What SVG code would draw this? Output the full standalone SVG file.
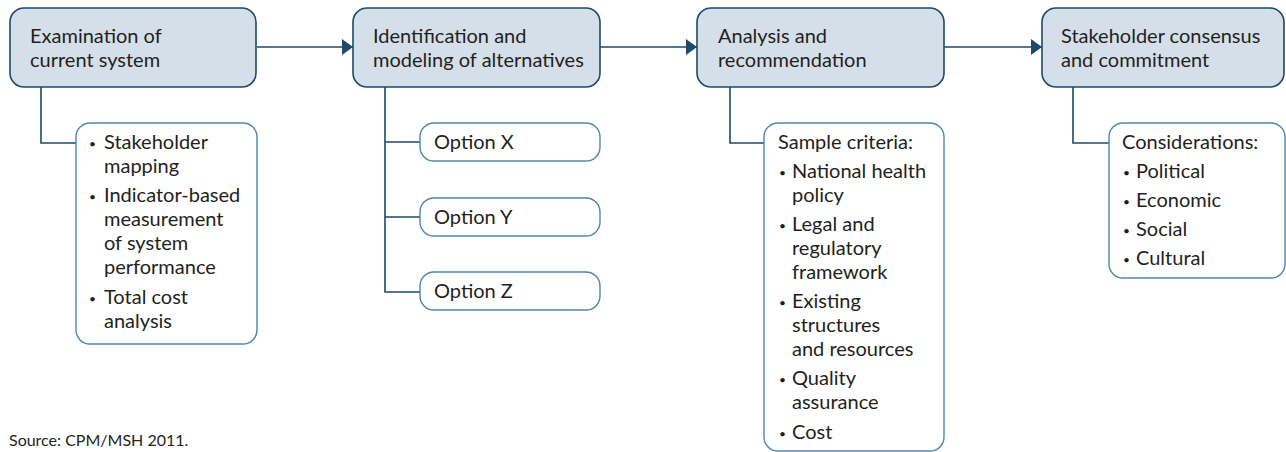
<svg xmlns="http://www.w3.org/2000/svg" width="1286" height="452" viewBox="0 0 1286 452">
<defs>
<style>
.main{fill:#d5dfea;stroke:#1d4a6a;stroke-width:1.6}
.sub{fill:#ffffff;stroke:#4f86ad;stroke-width:1.4}
.con{fill:none;stroke:#1d4a6a;stroke-width:1.6}
.t{font-family:Lato,"Open Sans",sans-serif;font-size:20px;fill:#231f20}
.b{font-family:Lato,"Open Sans",sans-serif;font-size:12px;fill:#231f20}
.s{font-family:Lato,"Open Sans",sans-serif;font-size:16px;fill:#231f20}
</style>
<marker id="ah" markerWidth="11" markerHeight="16" refX="11" refY="8" orient="auto" markerUnits="userSpaceOnUse">
<path d="M0,0 L11,8 L0,16 Z" fill="#1d4a6a"/>
</marker>
</defs>
<rect width="1286" height="452" fill="#ffffff"/>
<g id="connectors">
<line class="con" x1="257" y1="47" x2="353" y2="47" marker-end="url(#ah)"/>
<line class="con" x1="600" y1="47" x2="697" y2="47" marker-end="url(#ah)"/>
<line class="con" x1="944" y1="47" x2="1042" y2="47" marker-end="url(#ah)"/>
<path class="con" d="M41,87 V143 H76"/>
<path class="con" d="M385,87 V292 H420 M385,142 H420 M385,217 H420"/>
<path class="con" d="M730,87 V143 H764"/>
<path class="con" d="M1073,87 V143 H1109"/>
</g>
<g id="n1">
<rect class="main" x="10" y="8" width="246" height="79" rx="14"/>
<text class="t" x="30" y="43">Examination of</text>
<text class="t" x="30" y="67">current system</text>
</g>
<g id="n2">
<rect class="main" x="353" y="8" width="247" height="79" rx="14"/>
<text class="t" x="373" y="43">Identification and</text>
<text class="t" x="373" y="67">modeling of alternatives</text>
</g>
<g id="n3">
<rect class="main" x="697" y="8" width="247" height="79" rx="14"/>
<text class="t" x="718" y="43">Analysis and</text>
<text class="t" x="718" y="67">recommendation</text>
</g>
<g id="n4">
<rect class="main" x="1042" y="8" width="242" height="79" rx="14"/>
<text class="t" x="1061" y="43">Stakeholder consensus</text>
<text class="t" x="1061" y="67">and commitment</text>
</g>
<g id="s1">
<rect class="sub" x="76" y="123" width="181" height="221" rx="14"/>
<text class="b" x="89" y="148">•</text><text class="t" x="104" y="149">Stakeholder</text>
<text class="t" x="104" y="173">mapping</text>
<text class="b" x="89" y="201">•</text><text class="t" x="104" y="202">Indicator-based</text>
<text class="t" x="104" y="226">measurement</text>
<text class="t" x="104" y="250">of system</text>
<text class="t" x="104" y="274">performance</text>
<text class="b" x="89" y="303">•</text><text class="t" x="104" y="304">Total cost</text>
<text class="t" x="104" y="328">analysis</text>
</g>
<g id="oX">
<rect class="sub" x="420" y="123" width="180" height="38" rx="14"/>
<text class="t" x="434" y="149">Option X</text>
</g>
<g id="oY">
<rect class="sub" x="420" y="198" width="180" height="38" rx="14"/>
<text class="t" x="434" y="224">Option Y</text>
</g>
<g id="oZ">
<rect class="sub" x="420" y="272" width="180" height="38" rx="14"/>
<text class="t" x="434" y="298">Option Z</text>
</g>
<g id="s3">
<rect class="sub" x="764" y="123" width="180" height="328" rx="14"/>
<text class="t" x="778" y="149">Sample criteria:</text>
<text class="b" x="779" y="177">•</text><text class="t" x="792" y="178">National health</text>
<text class="t" x="792" y="202">policy</text>
<text class="b" x="779" y="230">•</text><text class="t" x="792" y="231">Legal and</text>
<text class="t" x="792" y="255">regulatory</text>
<text class="t" x="792" y="279">framework</text>
<text class="b" x="779" y="307">•</text><text class="t" x="792" y="308">Existing</text>
<text class="t" x="792" y="332">structures</text>
<text class="t" x="792" y="356">and resources</text>
<text class="b" x="779" y="384">•</text><text class="t" x="792" y="385">Quality</text>
<text class="t" x="792" y="409">assurance</text>
<text class="b" x="779" y="438">•</text><text class="t" x="792" y="439">Cost</text>
</g>
<g id="s4">
<rect class="sub" x="1109" y="123" width="176" height="155" rx="14"/>
<text class="t" x="1122" y="149">Considerations:</text>
<text class="b" x="1123" y="177">•</text><text class="t" x="1136" y="178">Political</text>
<text class="b" x="1123" y="206">•</text><text class="t" x="1136" y="207">Economic</text>
<text class="b" x="1123" y="235">•</text><text class="t" x="1136" y="236">Social</text>
<text class="b" x="1123" y="264">•</text><text class="t" x="1136" y="265">Cultural</text>
</g>
<text class="s" x="9" y="446">Source: CPM/MSH 2011.</text>
</svg>
